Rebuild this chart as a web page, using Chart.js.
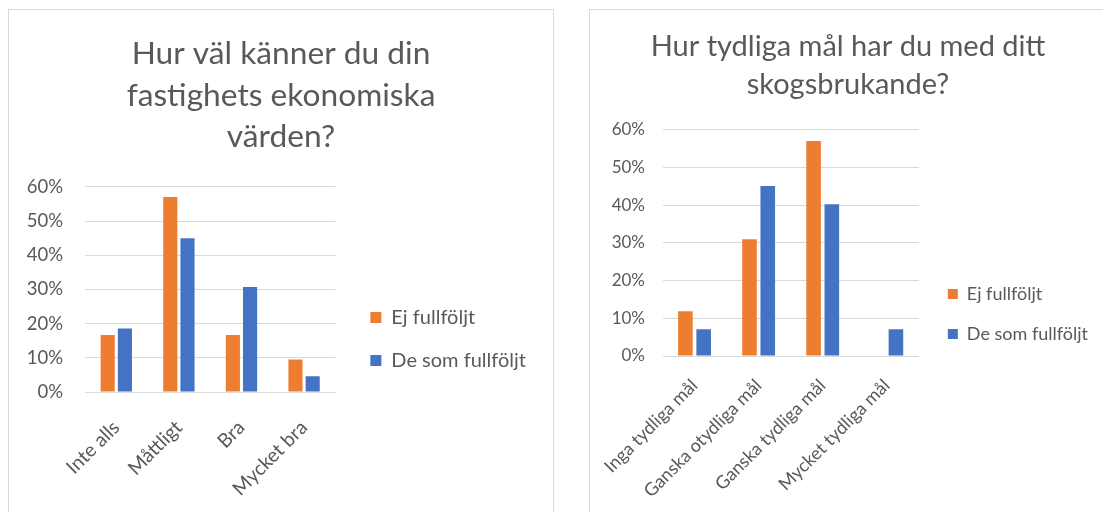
<!DOCTYPE html>
<html>
<head>
<meta charset="utf-8">
<script src="https://cdn.jsdelivr.net/npm/chart.js@4.4.1/dist/chart.umd.min.js"></script>
<style>
    body { margin: 0; width: 1103px; height: 512px; overflow: hidden; background: #fff; position: relative; }
    .card { position: absolute; top: 9px; border: 1px solid #d9d9d9; background: #fff; }
    #leftCard { left: 8px; width: 544px; height: 520px; }
    #rightCard { left: 589px; width: 530px; height: 520px; }
</style>
</head>
<body>
<div class="card" id="leftCard"><canvas id="chartLeft"></canvas></div>
<div class="card" id="rightCard"><canvas id="chartRight"></canvas></div>
<script>
// Series names (legend)
const seriesNames = ['Ej fullföljt', 'De som fullföljt'];

// Left chart: economic values of the property
const economyTitle = ['Hur väl känner du din', 'fastighets ekonomiska', 'värden?'];
const economyLabels = ['Inte alls', 'Måttligt', 'Bra', 'Mycket bra'];
const economyNotCompleted = [16.7, 57.1, 16.7, 9.5];
const economyCompleted = [18.6, 45.0, 30.7, 4.6];

// Right chart: clear goals with forestry
const goalTitle = ['Hur tydliga mål har du med ditt', 'skogsbrukande?'];
const goalLabels = ['Inga tydliga mål', 'Ganska otydliga mål', 'Ganska tydliga mål', 'Mycket tydliga mål'];
const goalNotCompleted = [11.9, 31.0, 57.1, 0];
const goalCompleted = [7.1, 45.1, 40.3, 7.1];

// Y axis
const yMax = 60;
const yStep = 10;

const ORANGE = '#ED7D31';
const BLUE = '#4472C4';
const TEXT = '#595959';
const GRID = '#D9D9D9';
const FONT = 'Lato, "Open Sans", sans-serif';

function createBarChart(canvasId, s) {
    const canvas = document.getElementById(canvasId);
    canvas.width = s.width;
    canvas.height = s.height;

    const ctx = canvas.getContext('2d');
    return new Chart(ctx, {
        type: 'bar',
        data: {
            labels: s.labels,
            datasets: [
                {
                    label: seriesNames[0],
                    data: s.first,
                    backgroundColor: ORANGE,
                    categoryPercentage: s.catPct,
                    barPercentage: s.barPct,
                },
                {
                    label: seriesNames[1],
                    data: s.second,
                    backgroundColor: BLUE,
                    categoryPercentage: s.catPct,
                    barPercentage: s.barPct,
                },
            ],
        },
        options: {
            responsive: false,
            animation: false,
            layout: { padding: { left: s.padLeft, right: s.padRight, top: 0, bottom: 0 } },
            plugins: {
                tooltip: { enabled: false },
                title: {
                    display: true,
                    text: s.title,
                    color: TEXT,
                    font: { family: FONT, size: s.titleSize, weight: 'normal', lineHeight: s.titleLine },
                    padding: { top: s.titleTop, bottom: s.titleBottom },
                },
                legend: {
                    position: 'right',
                    maxWidth: 300,
                    // empty legend title only pushes the items down
                    title: {
                        display: true,
                        text: '',
                        font: { size: 1, lineHeight: 1 },
                        padding: { top: s.legendTop - 1, bottom: 0 },
                    },
                    labels: {
                        color: TEXT,
                        boxWidth: s.box,
                        boxHeight: s.box,
                        padding: s.legendPad,
                        font: { family: FONT, size: s.legendSize },
                    },
                },
            },
            scales: {
                x: {
                    grid: { display: false, drawTicks: false },
                    border: { display: false },
                    ticks: {
                        color: TEXT,
                        font: { family: FONT, size: s.xTickSize },
                        minRotation: 45,
                        maxRotation: 45,
                        padding: s.xPad,
                        autoSkip: false,
                    },
                    afterFit(scale) {
                        scale.height = s.xHeight;
                        // long rotated labels must not squeeze the categories
                        scale.paddingLeft = 0;
                        scale.paddingRight = 0;
                    },
                },
                y: {
                    min: 0,
                    max: yMax,
                    grid: { color: GRID, drawTicks: false },
                    border: { display: false },
                    ticks: {
                        stepSize: yStep,
                        color: TEXT,
                        font: { family: FONT, size: s.yTickSize },
                        padding: s.yPad,
                        callback: (v) => v + '%',
                    },
                    afterFit(scale) { scale.width = s.yWidth; },
                },
                spacer: {
                    type: 'linear',
                    position: 'right',
                    grid: { display: false, drawTicks: false },
                    border: { display: false },
                    ticks: { display: false },
                    afterFit(scale) { scale.width = s.spacer; },
                },
            },
        },
    });
}

createBarChart('chartLeft', {
    width: 544, height: 502,
    title: economyTitle, labels: economyLabels,
    first: economyNotCompleted, second: economyCompleted,
    catPct: 0.55, barPct: 0.82,
    titleSize: 31.7, titleLine: 1.31, titleTop: 23, titleBottom: 29.4,
    legendSize: 20, legendPad: 23, box: 11, legendTop: 156,
    xTickSize: 19.5, yTickSize: 18.5, xPad: 24, yPad: 22,
    yWidth: 59, xHeight: 120,
    padLeft: 17, padRight: 17, spacer: 12,
});

createBarChart('chartRight', {
    width: 513, height: 502,
    title: goalTitle, labels: goalLabels,
    first: goalNotCompleted, second: goalCompleted,
    catPct: 0.57, barPct: 0.8,
    titleSize: 29, titleLine: 1.31, titleTop: 18, titleBottom: 26,
    legendSize: 18, legendPad: 22, box: 10, legendTop: 106,
    xTickSize: 18, yTickSize: 17, xPad: 19, yPad: 17.5,
    yWidth: 64.5, xHeight: 156,
    padLeft: 8, padRight: 5, spacer: 7,
});
</script>
</body>
</html>
